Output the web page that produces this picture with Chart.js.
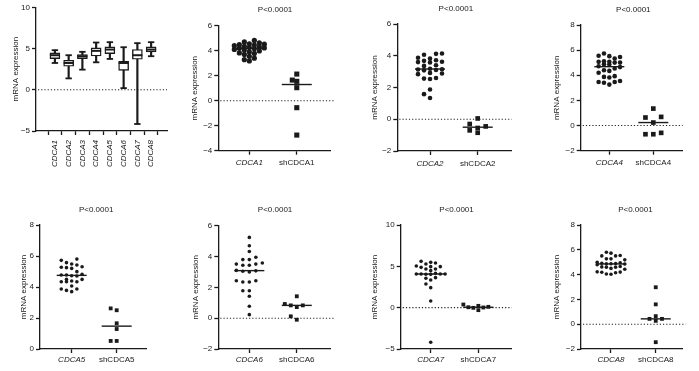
<!DOCTYPE html>
<html><head><meta charset="utf-8">
<script src="https://cdn.jsdelivr.net/npm/chart.js@4"></script>
<style>
html,body{margin:0;padding:0;background:#fff;}
#wrap{position:relative;width:699px;height:371px;overflow:hidden;background:#fff;}
#wrap canvas{position:absolute;left:0;top:0;}
</style></head><body><div id="wrap"></div>
<script>
// ---------------- DATA ----------------
const yAxisTitle = 'mRNA expression';
const pValueText = 'P<0.0001';

// Box plot (panel 1)
const boxCategories = ['CDCA1', 'CDCA2', 'CDCA3', 'CDCA4', 'CDCA5', 'CDCA6', 'CDCA7', 'CDCA8'];
const boxMin    = [3.25, 1.38, 2.44, 3.33, 3.74, 0.20, -4.15, 4.07];
const boxQ1     = [3.78, 2.85, 3.78, 4.10, 4.39, 2.36, 3.70, 4.60];
const boxMedian = [4.19, 3.25, 4.07, 4.72, 4.88, 3.25, 4.19, 4.88];
const boxQ3     = [4.47, 3.58, 4.27, 5.08, 5.20, 3.46, 4.88, 5.20];
const boxMax    = [4.80, 4.19, 4.60, 5.73, 5.77, 5.16, 5.65, 5.77];

// Scatter panels: group labels
const groupsCDCA1 = ['CDCA1', 'shCDCA1'];
const groupsCDCA2 = ['CDCA2', 'shCDCA2'];
const groupsCDCA4 = ['CDCA4', 'shCDCA4'];
const groupsCDCA5 = ['CDCA5', 'shCDCA5'];
const groupsCDCA6 = ['CDCA6', 'shCDCA6'];
const groupsCDCA7 = ['CDCA7', 'shCDCA7'];
const groupsCDCA8 = ['CDCA8', 'shCDCA8'];

// Scatter panel values
const tumorCDCA1 = [4.82, 4.70, 4.62, 4.55, 4.52, 4.48, 4.45, 4.40, 4.35, 4.30, 4.25, 4.22, 4.19, 4.15, 4.10, 4.05, 3.98, 3.90, 3.82, 3.78, 3.70, 3.55, 3.40, 3.28, 3.18];
const shCDCA1    = [2.13, 1.65, 1.55, 1.04, -0.56, -2.75];
const tumorCDCA2 = [4.14, 4.12, 4.06, 3.87, 3.82, 3.72, 3.68, 3.62, 3.60, 3.58, 3.40, 3.36, 3.18, 3.15, 3.13, 3.10, 3.08, 2.92, 2.88, 2.84, 2.60, 2.56, 2.54, 1.87, 1.58, 1.34];
const shCDCA2    = [0.05, -0.30, -0.45, -0.55, -0.70, -0.85];
const tumorCDCA4 = [5.73, 5.55, 5.52, 5.46, 5.33, 5.12, 5.07, 5.07, 5.01, 5.01, 4.88, 4.85, 4.72, 4.65, 4.54, 4.40, 4.35, 4.20, 3.93, 3.87, 3.82, 3.55, 3.47, 3.47, 3.40, 3.26];
const shCDCA4    = [1.35, 0.64, 0.69, 0.24, -0.69, -0.58, -0.69];
const tumorCDCA5 = [5.80, 5.72, 5.57, 5.48, 5.42, 5.31, 5.27, 5.25, 5.20, 4.99, 4.82, 4.77, 4.77, 4.73, 4.71, 4.49, 4.49, 4.39, 4.34, 4.34, 4.34, 4.06, 3.87, 3.87, 3.78, 3.70];
const shCDCA5    = [2.50, 2.62, 1.66, 1.29, 0.52, 0.52];
const tumorCDCA6 = [5.24, 4.70, 4.33, 3.95, 3.80, 3.80, 3.58, 3.51, 3.51, 3.43, 3.43, 3.10, 3.07, 3.04, 3.00, 2.43, 2.43, 2.35, 2.35, 1.78, 1.78, 1.42, 0.77, 0.23];
const shCDCA6    = [1.42, 0.83, 0.83, 0.92, 0.72, 0.12, -0.10];
const tumorCDCA7 = [5.60, 5.48, 5.40, 5.28, 5.04, 4.96, 4.96, 4.88, 4.68, 4.68, 4.48, 4.15, 4.07, 4.07, 4.07, 4.07, 4.05, 4.03, 3.63, 3.55, 3.35, 2.86, 2.42, 0.80, -4.19];
const shCDCA7    = [0.38, 0.05, -0.30, 0.10, 0.02, -0.02, 0.22];
const tumorCDCA8 = [5.80, 5.73, 5.54, 5.51, 5.51, 5.27, 5.27, 5.19, 5.00, 4.95, 4.92, 4.90, 4.88, 4.87, 4.85, 4.80, 4.65, 4.62, 4.60, 4.60, 4.50, 4.43, 4.22, 4.20, 4.19, 4.15, 4.05, 4.03];
const shCDCA8    = [2.98, 1.60, 0.65, 0.43, 0.43, 0.27, -1.45];

// ---------------- LAYOUT / STYLE ----------------
const FONT = "'Liberation Sans', Arial, Helvetica, sans-serif";
const INK = '#1a1a1a';
const W = 699, H = 371;

const scatterPanels = [
  {groups: groupsCDCA1, tumor: tumorCDCA1, sh: shCDCA1, L: {titleX: 194.5, axisX: 218.3, top: 25.7, bottom: 150.7, right: 330, yMin: -4, yMax: 6, step: 2, xMin: -0.654, xMax: 1.70, zero: true, zeroExt: 4, xpad: 3.5, r: 2.6, sq: 3.6, col: 5, gap: 4.2, cap: 15, sqCol: 4.5, sqGap: 4.5}},
  {groups: groupsCDCA2, tumor: tumorCDCA2, sh: shCDCA2, L: {titleX: 374.5, axisX: 397.3, top: 24, bottom: 151, right: 511.7, yMin: -2, yMax: 6, step: 2, xMin: -0.686, xMax: 1.713, zero: true, zeroExt: 0, xpad: 3.5, r: 2.3, sq: 3.3, col: 6, gap: 6, cap: 17, sqCol: 8, sqGap: 4.5}},
  {groups: groupsCDCA4, tumor: tumorCDCA4, sh: shCDCA4, L: {titleX: 557, axisX: 580.7, top: 25, bottom: 150.7, right: 691, yMin: -2, yMax: 8, step: 2, xMin: -0.651, xMax: 1.666, zero: true, zeroExt: 0, xpad: 3.5, r: 2.3, sq: 3.3, col: 5.8, gap: 6, cap: 17, sqCol: 8.5, sqGap: 6}},
  {groups: groupsCDCA5, tumor: tumorCDCA5, sh: shCDCA5, L: {titleX: 24, axisX: 40, top: 225, bottom: 349, right: 146.7, yMin: 0, yMax: 8, step: 2, xMin: -0.704, xMax: 1.667, zero: false, zeroExt: 0, xpad: 1.5, r: 1.8, sq: 2.7, col: 5.2, gap: 5, cap: 15, sqCol: 6, sqGap: 4}},
  {groups: groupsCDCA6, tumor: tumorCDCA6, sh: shCDCA6, L: {titleX: 195.8, axisX: 218.3, top: 225.7, bottom: 349, right: 330, yMin: -2, yMax: 6, step: 2, xMin: -0.654, xMax: 1.70, zero: true, zeroExt: 4, xpad: 1.5, r: 1.8, sq: 2.7, col: 6.5, gap: 4.5, cap: 15, sqCol: 6, sqGap: 4}},
  {groups: groupsCDCA7, tumor: tumorCDCA7, sh: shCDCA7, L: {titleX: 374.5, axisX: 400.7, top: 225, bottom: 349, right: 511.7, yMin: -5, yMax: 10, step: 5, xMin: -0.63, xMax: 1.70, zero: true, zeroExt: 0, xpad: 1.5, r: 1.8, sq: 2.7, col: 4.8, gap: 3.8, cap: 15, sqCol: 5, sqGap: 4}},
  {groups: groupsCDCA8, tumor: tumorCDCA8, sh: shCDCA8, L: {titleX: 557, axisX: 581, top: 225, bottom: 349, right: 687, yMin: -2, yMax: 8, step: 2, xMin: -0.67, xMax: 1.6, zero: true, zeroExt: 3, xpad: 1.5, r: 1.8, sq: 2.7, col: 4.8, gap: 5, cap: 17, sqCol: 6.5, sqGap: 4}}
];
const boxLayout = {titleX: 16.2, axisX: 36, top: 7.3, bottom: 131, right: 167, yMin: -5, yMax: 10, step: 5, xMin: -0.78, xMax: 7.56, xh: 40, xpad: 5};

// ---------------- HELPERS ----------------
function median(arr) {
  const s = [...arr].sort((a, b) => a - b);
  const n = s.length;
  return n % 2 ? s[(n - 1) / 2] : (s[n / 2 - 1] + s[n / 2]) / 2;
}
function minusSign(v) { return String(v).replace('-', '\u2212'); }

// column-based swarm layout (horizontal jitter, in x-axis units), width capped
function swarm(values, pxY, pxX, colStep, minGap, capPx) {
  const order = values.map((_, i) => i).sort((a, b) => values[a] - values[b]);
  const maxC = Math.max(0, Math.floor((capPx || 999) / colStep + 1e-6));
  const cands = [0];
  for (let c = 1; c <= maxC; c++) { cands.push(-c, c); }
  const cols = new Map();
  const out = new Array(values.length).fill(0);
  for (const i of order) {
    const y = values[i] * pxY;
    let chosen = null, bestC = 0, bestD = -1;
    for (const c of cands) {
      const list = cols.get(c) || [];
      const d = list.reduce((m, py) => Math.min(m, Math.abs(py - y)), Infinity);
      if (d >= minGap) { chosen = c; break; }
      if (d > bestD) { bestD = d; bestC = c; }
    }
    if (chosen === null) chosen = bestC;
    const list = cols.get(chosen) || [];
    list.push(y); cols.set(chosen, list);
    out[i] = chosen * colStep / pxX;
  }
  return out;
}

const zeroLinePlugin = {
  id: 'zeroLine',
  beforeDatasetsDraw(chart, args, opts) {
    if (!opts.show) return;
    const ctx = chart.ctx;
    const y = chart.scales.y.getPixelForValue(0);
    const {left, right} = chart.chartArea;
    ctx.save();
    ctx.setLineDash([1.2, 2]);
    ctx.lineWidth = 1.1;
    ctx.strokeStyle = '#222';
    ctx.beginPath();
    ctx.moveTo(left + 2, y);
    ctx.lineTo(right + (opts.ext || 0), y);
    ctx.stroke();
    ctx.restore();
  }
};
const pTitlePlugin = {
  id: 'pTitle',
  afterDraw(chart, args, opts) {
    if (!opts.text) return;
    const ctx = chart.ctx;
    const x = chart.scales.x.getPixelForValue(0.5) + 2;
    ctx.save();
    ctx.font = '8px ' + FONT;
    ctx.fillStyle = INK;
    ctx.textAlign = 'center';
    ctx.textBaseline = 'middle';
    ctx.fillText(opts.text, x, chart.chartArea.top - 15.5);
    ctx.restore();
  }
};

function newCanvas() {
  const c = document.createElement('canvas');
  c.width = W; c.height = H;
  c.style.width = W + 'px'; c.style.height = H + 'px';
  document.getElementById('wrap').appendChild(c);
  return c;
}

function axisCommon() {
  return {
    grid: {drawOnChartArea: false, drawTicks: true, tickLength: 4, tickWidth: 1.3, tickColor: INK},
    border: {display: true, color: INK, width: 1.3}
  };
}

function yAxis(L) {
  const leftPad = L.titleX - 4.8;
  return Object.assign(axisCommon(), {
    type: 'linear', min: L.yMin, max: L.yMax,
    afterFit: s => { s.width = L.axisX - leftPad; },
    ticks: {stepSize: L.step, callback: v => minusSign(v), font: {family: FONT, size: 8}, color: INK, padding: 2},
    title: {display: true, text: yAxisTitle, font: {family: FONT, size: 8}, color: INK, padding: 0}
  });
}

// ---------------- PANEL 1: BOX PLOT ----------------
(function () {
  const L = boxLayout;
  const idx = boxCategories.map((_, i) => i);
  new Chart(newCanvas(), {
    type: 'bar',
    data: {
      datasets: [
        {type: 'bar', order: 3, grouped: false, barThickness: 1.5, backgroundColor: INK, borderWidth: 0,
          data: idx.map(i => ({x: i, y: [boxMin[i], boxMax[i]]}))},
        {type: 'bar', order: 2, grouped: false, barThickness: 10, backgroundColor: '#fff', borderColor: INK, borderWidth: 1.4, borderSkipped: false,
          data: idx.map(i => ({x: i, y: [boxQ1[i], boxQ3[i]]}))},
        {type: 'scatter', order: 1, pointStyle: 'line', pointRadius: 5, borderColor: INK, borderWidth: 2, clip: false,
          data: idx.map(i => ({x: i, y: boxMedian[i]}))},
        {type: 'scatter', order: 1, pointStyle: 'line', pointRadius: 3.2, borderColor: INK, borderWidth: 1.8, clip: false,
          data: idx.map(i => ({x: i, y: boxMin[i]})).concat(idx.map(i => ({x: i, y: boxMax[i]})))}
      ]
    },
    options: {
      responsive: false, animation: false, events: [], devicePixelRatio: 1,
      layout: {padding: {left: L.titleX - 4.8, top: L.top, right: W - L.right, bottom: H - L.bottom - L.xh}},
      plugins: {legend: {display: false}, tooltip: {enabled: false}, zeroLine: {show: true, ext: 0}},
      scales: {
        x: Object.assign(axisCommon(), {
          type: 'linear', min: L.xMin, max: L.xMax,
          afterBuildTicks: a => { a.ticks = idx.map(i => ({value: i})); },
          afterFit: s => { s.height = L.xh; },
          ticks: {callback: (v, i) => boxCategories[i], autoSkip: false, minRotation: 90, maxRotation: 90,
            font: {family: FONT, size: 8, style: 'italic'}, color: INK, padding: L.xpad}
        }),
        y: yAxis(L)
      }
    },
    plugins: [zeroLinePlugin]
  });
})();

// ---------------- SCATTER PANELS ----------------
scatterPanels.forEach(P => {
  const L = P.L;
  const pxY = (L.bottom - L.top) / (L.yMax - L.yMin);
  const pxX = (L.right - L.axisX) / (L.xMax - L.xMin);
  const offT = swarm(P.tumor, pxY, pxX, L.col, L.gap, L.cap);
  const offS = swarm(P.sh, pxY, pxX, L.sqCol, L.sqGap, 20);
  const halfLine = 15;
  new Chart(newCanvas(), {
    type: 'scatter',
    data: {
      datasets: [
        {order: 2, pointStyle: 'circle', pointRadius: L.r, backgroundColor: INK, borderWidth: 0, clip: false,
          data: P.tumor.map((v, i) => ({x: 0 + offT[i], y: v}))},
        {order: 2, pointStyle: 'rect', pointRadius: L.sq, backgroundColor: INK, borderWidth: 0, clip: false,
          data: P.sh.map((v, i) => ({x: 1 + offS[i], y: v}))},
        {order: 1, pointStyle: 'line', pointRadius: halfLine, borderColor: INK, borderWidth: 1.4, clip: false,
          data: [{x: 0, y: median(P.tumor)}, {x: 1, y: median(P.sh)}]}
      ]
    },
    options: {
      responsive: false, animation: false, events: [], devicePixelRatio: 1,
      layout: {padding: {left: L.titleX - 4.8, top: L.top, right: W - L.right, bottom: H - L.bottom - 20}},
      plugins: {legend: {display: false}, tooltip: {enabled: false},
        zeroLine: {show: L.zero, ext: L.zeroExt}, pTitle: {text: pValueText}},
      scales: {
        x: Object.assign(axisCommon(), {
          type: 'linear', min: L.xMin, max: L.xMax,
          afterBuildTicks: a => { a.ticks = [{value: 0}, {value: 1}]; },
          afterFit: s => { s.height = 20; },
          ticks: {callback: (v, i) => P.groups[i], autoSkip: false, maxRotation: 0, minRotation: 0,
            font: ctx => ({family: FONT, size: 8, style: ctx.index === 0 ? 'italic' : 'normal'}),
            color: INK, padding: L.xpad}
        }),
        y: yAxis(L)
      }
    },
    plugins: [zeroLinePlugin, pTitlePlugin]
  });
});
</script>
</body></html>
